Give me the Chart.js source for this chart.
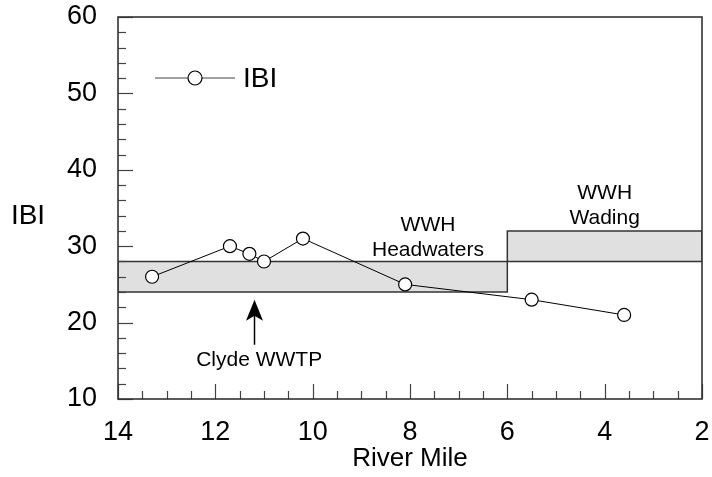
<!DOCTYPE html>
<html>
<head>
<meta charset="utf-8">
<title>IBI vs River Mile</title>
<script src="https://cdn.jsdelivr.net/npm/chart.js@4.4.0/dist/chart.umd.min.js"></script>
<style>
    html, body { margin: 0; padding: 0; background: #fff; }
</style>
</head>
<body>
<canvas id="ibi-chart" width="712" height="477"></canvas>
<script>
// --- Data ---
const riverMile = [13.3, 11.7, 11.3, 11.0, 10.2, 8.1, 5.5, 3.6];
const ibiScore = [26, 30, 29, 28, 31, 25, 23, 21];

const xTickLabels = [14, 12, 10, 8, 6, 4, 2];
const yTickLabels = [10, 20, 30, 40, 50, 60];

// WWH criteria bands, as closed outlines (river mile, IBI)
const headwatersMiles = [14, 14, 6, 6, 14];
const headwatersIbi = [24, 28, 28, 24, 24];
const wadingMiles = [6, 6, 2, 2, 6];
const wadingIbi = [28, 32, 32, 28, 28];

const bandNotes = [
    { lines: ['WWH', 'Headwaters'], mile: 7.63, ibi: [32.8, 29.5] },
    { lines: ['WWH', 'Wading'], mile: 4.0, ibi: [36.95, 33.7] }
];
const wwtpNote = { text: 'Clyde WWTP', mile: 11.1, ibi: 15.1 };
const wwtpArrow = { mile: 11.2, tip: 23, tail: 17.1 };

const FONT = "'Liberation Sans', Arial, Helvetica, sans-serif";
const toPoints = (xs, ys) => xs.map((x, i) => ({ x, y: ys[i] }));

// no extra padding from tick labels, chart area is fixed by layout padding
const noScalePadding = s => { s.paddingLeft = s.paddingRight = s.paddingTop = s.paddingBottom = 0; };

// Frame, inward ticks, legend, labels and arrow
const decorations = {
    id: 'decorations',
    afterDatasetsDraw(chart) {
        const { ctx, chartArea: a, scales: { x, y } } = chart;
        const seg = (x1, y1, x2, y2) => { ctx.beginPath(); ctx.moveTo(x1, y1); ctx.lineTo(x2, y2); ctx.stroke(); };
        ctx.save();

        // ticks on left and bottom, pointing into the plot
        ctx.strokeStyle = '#444';
        ctx.lineWidth = 1.2;
        for (let v = 2; v <= 14; v += 0.5) {
            const px = Math.round(x.getPixelForValue(v)) + 0.5;
            seg(px, a.bottom, px, a.bottom - (v % 2 === 0 ? 15 : 8));
        }
        for (let v = 10; v <= 60; v += 2) {
            const py = Math.round(y.getPixelForValue(v)) + 0.5;
            seg(a.left, py, a.left + (v % 10 === 0 ? 15 : 8), py);
        }

        // frame
        ctx.strokeStyle = '#333';
        ctx.lineWidth = 1.6;
        ctx.strokeRect(a.left, a.top, a.right - a.left, a.bottom - a.top);

        // legend
        const ly = a.top + 61;
        ctx.strokeStyle = '#444';
        ctx.lineWidth = 1.2;
        seg(a.left + 37, ly, a.left + 117, ly);
        ctx.beginPath();
        ctx.arc(a.left + 77, ly, 7, 0, Math.PI * 2);
        ctx.fillStyle = '#fff';
        ctx.fill();
        ctx.strokeStyle = '#000';
        ctx.stroke();
        ctx.fillStyle = '#000';
        ctx.font = `28px ${FONT}`;
        ctx.textAlign = 'left';
        ctx.textBaseline = 'middle';
        ctx.fillText('IBI', a.left + 125, ly + 1);

        // y title, horizontal
        ctx.textAlign = 'center';
        ctx.fillText('IBI', 28, 216);

        // band notes
        ctx.font = `21px ${FONT}`;
        bandNotes.forEach(n => {
            n.lines.forEach((t, i) => ctx.fillText(t, x.getPixelForValue(n.mile), y.getPixelForValue(n.ibi[i])));
        });
        ctx.fillText(wwtpNote.text, x.getPixelForValue(wwtpNote.mile), y.getPixelForValue(wwtpNote.ibi));

        // arrow pointing at the WWTP
        const ax = Math.round(x.getPixelForValue(wwtpArrow.mile)) + 0.5;
        const tipY = y.getPixelForValue(wwtpArrow.tip);
        const tailY = y.getPixelForValue(wwtpArrow.tail);
        ctx.strokeStyle = '#000';
        ctx.lineWidth = 1.5;
        seg(ax, tailY, ax, tipY + 14);
        ctx.beginPath();
        ctx.moveTo(ax, tipY);
        ctx.lineTo(ax - 8.5, tipY + 21);
        ctx.lineTo(ax, tipY + 16);
        ctx.lineTo(ax + 8.5, tipY + 21);
        ctx.closePath();
        ctx.fill();

        ctx.restore();
    }
};

const bandStyle = {
    borderColor: '#333',
    borderWidth: 1.5,
    backgroundColor: '#e0e0e0',
    fill: 'shape',
    pointRadius: 0,
    tension: 0
};

const chart = new Chart(document.getElementById('ibi-chart').getContext('2d'), {
    type: 'line',
    data: {
        datasets: [
            {
                label: 'IBI',
                data: toPoints(riverMile, ibiScore),
                borderColor: '#000',
                borderWidth: 1,
                pointRadius: 6.5,
                pointBackgroundColor: '#fff',
                pointBorderColor: '#000',
                pointBorderWidth: 1.2,
                fill: false,
                order: 0
            },
            { ...bandStyle, label: 'WWH Headwaters', data: toPoints(headwatersMiles, headwatersIbi), order: 1 },
            { ...bandStyle, label: 'WWH Wading', data: toPoints(wadingMiles, wadingIbi), order: 2 }
        ]
    },
    options: {
        responsive: false,
        animation: false,
        events: [],
        layout: { autoPadding: false, padding: { left: 0, top: 17, right: 10, bottom: 0 } },
        scales: {
            x: {
                type: 'linear',
                reverse: true,
                min: 2,
                max: 14,
                afterBuildTicks: s => { s.ticks = xTickLabels.map(v => ({ value: v })); },
                afterFit: s => { s.height = 78; noScalePadding(s); },
                ticks: { color: '#000', font: { family: FONT, size: 27 }, padding: 17, maxRotation: 0 },
                grid: { drawOnChartArea: false, drawTicks: false },
                border: { display: false },
                title: { display: true, text: 'River Mile', color: '#000', font: { family: FONT, size: 26 }, padding: { top: 0, bottom: 3 } }
            },
            y: {
                min: 10,
                max: 60,
                afterBuildTicks: s => { s.ticks = yTickLabels.map(v => ({ value: v })); },
                afterFit: s => { s.width = 118; noScalePadding(s); },
                ticks: { color: '#000', font: { family: FONT, size: 27 }, padding: 21 },
                grid: { drawOnChartArea: false, drawTicks: false },
                border: { display: false }
            }
        },
        plugins: {
            legend: { display: false },
            tooltip: { enabled: false },
            filler: { drawTime: 'beforeDatasetsDraw' }
        }
    },
    plugins: [decorations]
});
</script>
</body>
</html>
